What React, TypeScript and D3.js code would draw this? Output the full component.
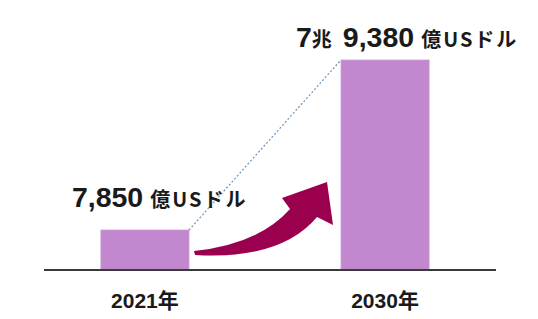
import React from "react";
import * as d3 from "d3";

const categories = ["2021年", "2030年"];
const values = [7850, 79380];
const valueMain = ["7,850", "9,380"];
const valuePrefix = ["", "7兆"];
const unitLabel = "億USドル";

const W = 538;
const H = 319;

export default function App() {
  const x = d3
    .scaleBand<string>()
    .domain(categories)
    .range([25, 505])
    .paddingInner(0.633)
    .paddingOuter(0.316);
  const y = d3.scaleLinear().domain([-8980, 79380]).range([270, 60]);
  const base = 270;
  const bw = x.bandwidth();

  const x1 = x(categories[0])!;
  const x2 = x(categories[1])!;
  const y1 = y(values[0]);
  const y2 = y(values[1]);

  // arrow, relative to the two bars
  const ax = x1 + bw; // right edge of first bar
  const p = (dx: number, dy: number) => `${ax + dx},${base + dy}`;
  const arrow =
    `M${p(5, -19)} Q${p(70, -26)} ${p(101, -61)} L${p(93, -72)} L${p(138, -88)} L${p(144, -45)} L${p(128, -53)} Q${p(92, -10)} ${p(6, -15)} Z`;

  const fontFam = "'Liberation Sans', Arial, 'Noto Sans CJK JP', sans-serif";
  const cjkFam = "'Noto Sans CJK JP', sans-serif";

  return (
    <div style={{ position: "absolute", left: 0, top: 0 }}>
      <svg width={W} height={H} style={{ display: "block", background: "#fff" }}>
        {categories.map((c, i) => (
          <rect
            key={c}
            x={x(c)}
            y={y(values[i])}
            width={bw}
            height={base - y(values[i])}
            fill="#c387cf"
            stroke="#c9a0d4"
            strokeWidth={0.8}
          />
        ))}
        <line
          x1={x1 + bw}
          y1={y1}
          x2={x2}
          y2={y2}
          stroke="#6f93b8"
          strokeWidth={1.2}
          strokeDasharray="2,2"
        />
        <path d={arrow} fill="#9b004f" />
        <line x1={44} x2={496} y1={base} y2={base} stroke="#3a3a3a" strokeWidth={2} />
        {categories.map((c) => (
          <text
            key={c}
            x={x(c)! + bw / 2}
            y={308}
            textAnchor="middle"
            fontFamily={fontFam}
            fontWeight="bold"
            fontSize={21}
            fill="#1a1a1a"
          >
            {c}
          </text>
        ))}
        <text x={x1 - 29} y={y1 - 23} fontFamily={fontFam} fontWeight="bold" fill="#1a1a1a">
          <tspan fontSize={28.5}>{valueMain[0]}</tspan>
          <tspan fontSize={20} dx={7} fontFamily={cjkFam} letterSpacing={2}>
            {unitLabel}
          </tspan>
        </text>
        <text x={x2 - 45} y={y2 - 13} fontFamily={fontFam} fontWeight="bold" fill="#1a1a1a">
          <tspan fontSize={28.5}>{valuePrefix[1].slice(0, 1)}</tspan>
          <tspan fontSize={20} fontFamily={cjkFam}>{valuePrefix[1].slice(1)}</tspan>
          <tspan fontSize={28.5} dx={11}>{valueMain[1]}</tspan>
          <tspan fontSize={20} dx={7} fontFamily={cjkFam} letterSpacing={2}>
            {unitLabel}
          </tspan>
        </text>
      </svg>
    </div>
  );
}
